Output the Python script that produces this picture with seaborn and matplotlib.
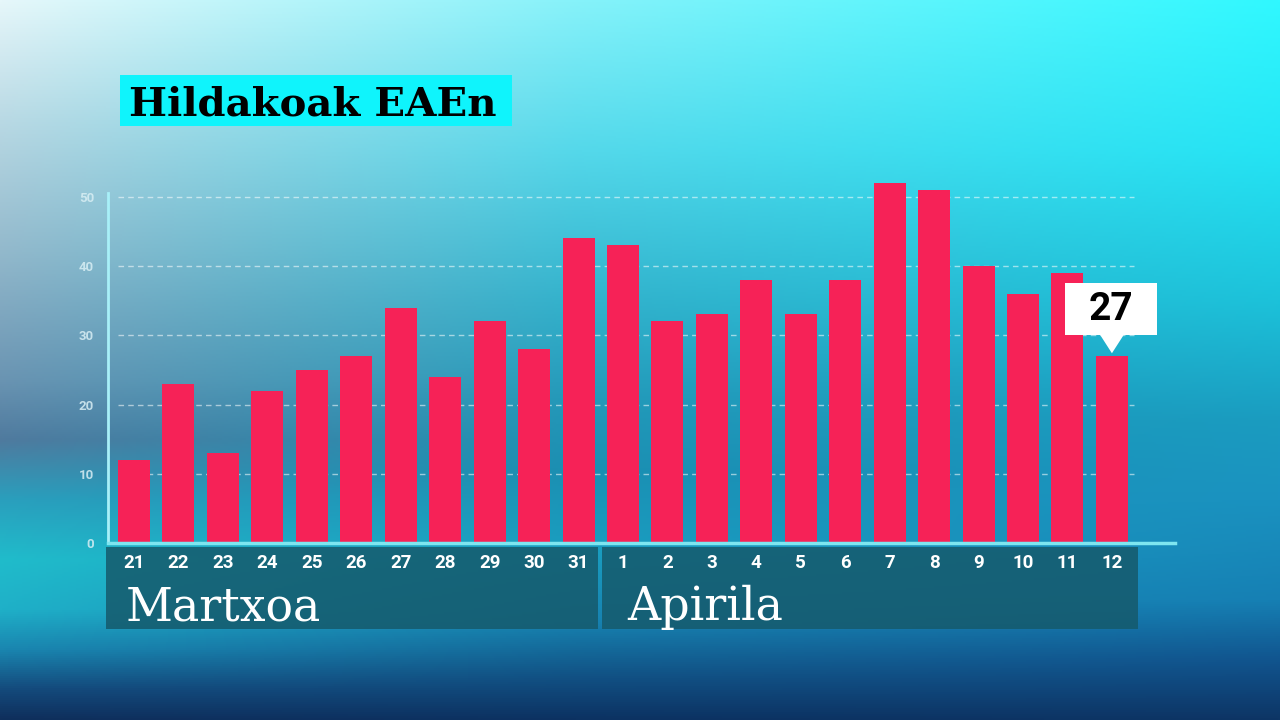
import numpy as np
import pandas as pd
import matplotlib.pyplot as plt
import matplotlib.colors as mcolors
import matplotlib.transforms as mtransforms
from matplotlib.patches import Rectangle, Polygon
import seaborn as sns

# data
days = ['21', '22', '23', '24', '25', '26', '27', '28', '29', '30', '31',
        '1', '2', '3', '4', '5', '6', '7', '8', '9', '10', '11', '12']
deaths = [12, 23, 13, 22, 25, 27, 34, 24, 32, 28, 44,
          43, 32, 33, 38, 33, 38, 52, 51, 40, 36, 39, 27]
months = ['Martxoa', 'Apirila']
month_days = [11, 12]
title = 'Hildakoak EAEn'
yticks = [0, 10, 20, 30, 40, 50]

df = pd.DataFrame({'day': days, 'deaths': deaths})

sns.set_style('white')
plt.rcParams['font.family'] = ['Roboto', 'DejaVu Sans']

fig = plt.figure(figsize=(12.8, 7.2), dpi=100)

# background gradient: three vertical colour columns blended horizontally
H, W = 360, 640
ys = np.linspace(0, 720, H)
left_y = [0, 120, 250, 380, 440, 500, 560, 610, 650, 690, 720]
left_c = ['#e6f7fa', '#b9d9e4', '#93b9cc', '#6a94b2', '#4f7a9e', '#2a9fbd',
          '#20bccb', '#1fb0c8', '#1a86b0', '#144a7c', '#0f2f5c']
mid_y = [0, 150, 300, 400, 470, 550, 620, 680, 720]
mid_c = ['#86f2fa', '#55d8ea', '#33b2cc', '#2399b9', '#1b8fb2', '#1a9ec0',
         '#1784b2', '#114f82', '#0c3262']
right_y = [0, 150, 300, 420, 500, 600, 660, 720]
right_c = ['#30f8ff', '#24e4f4', '#1cc2da', '#1a9cc0', '#1a92c0', '#1680b4',
           '#11558f', '#0d3565']


def column(stops, cols):
    rgb = np.array([mcolors.to_rgb(c) for c in cols])
    return np.stack([np.interp(ys, stops, rgb[:, k]) for k in range(3)], axis=1)


cols = [column(left_y, left_c), column(mid_y, mid_c), column(right_y, right_c)]
xs = np.linspace(0, 1, W)
grad = np.zeros((H, W, 3))
for k in range(3):
    grad[:, :, k] = np.stack([np.interp(xs, [0, 0.45, 1],
                                        [cols[0][r, k], cols[1][r, k], cols[2][r, k]])
                              for r in range(H)])
bg = fig.add_axes([0, 0, 1, 1], zorder=-5)
bg.imshow(grad, aspect='auto', extent=[0, 1, 0, 1], origin='upper')
bg.set_xlim(0, 1)
bg.set_ylim(0, 1)
bg.axis('off')

# main chart
ax = fig.add_axes([0.0844, 0.2458, 0.8336, 0.5098])
ax.set_facecolor('none')
for y in yticks[1:]:
    ax.axhline(y, xmin=0.009, xmax=0.962, color='white', alpha=0.55,
               lw=1, ls=(0, (4, 3)), zorder=0)
sns.barplot(data=df, x='day', y='deaths', order=days, color='#f62257',
            saturation=1, width=0.72, linewidth=0, edgecolor='none', ax=ax, zorder=2)
ax.set_xlim(-0.585, 23.42)
ax.set_ylim(0, 53)
ax.set_xlabel('')
ax.set_ylabel('')
ax.set_yticks(yticks)
ax.tick_params(axis='y', length=0, pad=10, labelsize=9.5, labelcolor='#d8eef4')
for lab in ax.get_yticklabels():
    lab.set_fontweight('bold')
    lab.set_alpha(0.85)
ax.tick_params(axis='x', length=0, pad=8, labelsize=13.5, labelcolor='white')
for lab in ax.get_xticklabels():
    lab.set_fontweight('bold')
for s in ['top', 'right']:
    ax.spines[s].set_visible(False)
ax.spines['left'].set_color('#a8f0f8')
ax.spines['left'].set_linewidth(2)
ax.spines['left'].set_bounds(0, 50.5)
ax.spines['bottom'].set_color('#7ee6f0')
ax.spines['bottom'].set_linewidth(2.5)

# month bands under the axis (drawn on the background layer)
band_tr = mtransforms.blended_transform_factory(ax.transData, fig.transFigure)
name_tr = ax.get_xaxis_transform()
start = -0.63
for i, (name, n) in enumerate(zip(months, month_days)):
    x0 = start if i == 0 else start + 0.16
    x1 = start + n + (0.07 if i == 0 else 0.22)
    bg.add_patch(Rectangle((x0, 1 - 629 / 720), x1 - x0, 82 / 720, transform=band_tr,
                           facecolor='#155a6c', alpha=0.85, edgecolor='none',
                           clip_on=False, zorder=1))
    ax.text(x0 + 0.45 + (0.12 if i == 1 else 0), -0.21, name, transform=name_tr,
            family='DejaVu Serif', fontsize=33, color='white', ha='left',
            va='baseline', clip_on=False, zorder=3)
    start += n

# callout for the last value
xl = len(days) - 1
vl = deaths[-1]
ax.add_patch(Polygon([[xl - 0.3, vl + 3.4], [xl + 0.3, vl + 3.4], [xl, vl + 0.4]],
                     closed=True, facecolor='white', edgecolor='none', zorder=4))
ax.add_patch(Rectangle((xl - 1.05, vl + 3.0), 2.07, 7.5, facecolor='white',
                       edgecolor='none', zorder=4))
ax.text(xl - 0.02, vl + 6.7, str(vl), fontsize=28, fontweight='bold',
        color='black', ha='center', va='center', zorder=5)

# title box
fig.patches.append(Rectangle((120 / 1280, 1 - 126 / 720), 392 / 1280, 51 / 720,
                             transform=fig.transFigure, facecolor='#0ff4fc',
                             edgecolor='none', zorder=1))
fig.text(129 / 1280, 1 - 101 / 720, title, family='DejaVu Serif',
         fontweight='bold', fontsize=29, color='black', ha='left',
         va='center_baseline', zorder=2)

plt.savefig('out.png', dpi=100)
